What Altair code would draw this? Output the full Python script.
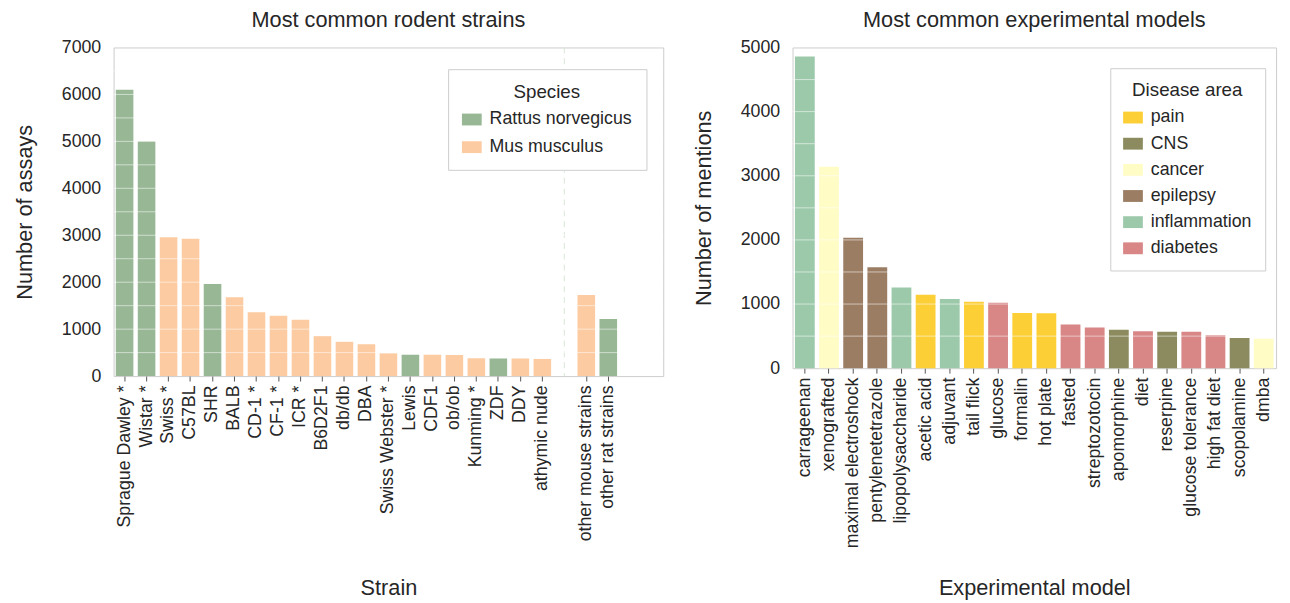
import altair as alt
import pandas as pd

FONT = "Liberation Sans"
TXT = "#262626"

# ---------------- left panel data ----------------
strains = ["Sprague Dawley *", "Wistar *", "Swiss *", "C57BL", "SHR", "BALB", "CD-1 *", "CF-1 *",
           "ICR *", "B6D2F1", "db/db", "DBA", "Swiss Webster *", "Lewis", "CDF1", "ob/ob",
           "Kunming *", "ZDF", "DDY", "athymic nude", "other mouse strains", "other rat strains"]
assays = [6100, 5000, 2960, 2925, 1960, 1680, 1360, 1285, 1200, 850, 730, 680, 485, 455, 455,
          450, 380, 375, 375, 365, 1725, 1215]
RAT = "Rattus norvegicus"
MOUSE = "Mus musculus"
species = [RAT, RAT, MOUSE, MOUSE, RAT, MOUSE, MOUSE, MOUSE, MOUSE, MOUSE, MOUSE, MOUSE, MOUSE,
           RAT, MOUSE, MOUSE, MOUSE, RAT, MOUSE, MOUSE, MOUSE, RAT]
species_order = [RAT, MOUSE]
species_colors = ["#97b795", "#fdcba1"]
gap_slot = ["  "]
end_slots = ["   ", "    "]
left_ticks = [0, 1000, 2000, 3000, 4000, 5000, 6000, 7000]
left_grid = [500, 1000, 1500, 2000, 2500, 3000, 3500, 4000, 4500, 5000, 5500, 6000, 6500]

# ---------------- right panel data ----------------
models = ["carrageenan", "xenografted", "maximal electroshock", "pentylenetetrazole",
          "lipopolysaccharide", "acetic acid", "adjuvant", "tail flick", "glucose", "formalin",
          "hot plate", "fasted", "streptozotocin", "apomorphine", "diet", "reserpine",
          "glucose tolerance", "high fat diet", "scopolamine", "dmba"]
mentions = [4860, 3140, 2035, 1575, 1260, 1145, 1080, 1035, 1020, 860, 855, 680, 635, 600, 575,
            570, 570, 515, 470, 460]
areas = ["inflammation", "cancer", "epilepsy", "epilepsy", "inflammation", "pain", "inflammation",
         "pain", "diabetes", "pain", "pain", "diabetes", "diabetes", "CNS", "diabetes", "CNS",
         "diabetes", "diabetes", "CNS", "cancer"]
area_order = ["pain", "CNS", "cancer", "epilepsy", "inflammation", "diabetes"]
area_colors = ["#fdcf37", "#8b8b5f", "#fffcc6", "#9b7d63", "#9dc9ab", "#d88686"]
right_ticks = [0, 1000, 2000, 3000, 4000, 5000]
right_grid = [500, 1000, 1500, 2000, 2500, 3000, 3500, 4000, 4500]

RECT = "M-1,-0.6H1V0.6H-1Z"
LBL = 18
TTL = 22

# ---------------- left panel ----------------
slot_order = strains[:20] + gap_slot + strains[20:] + end_slots
left_df = pd.DataFrame({"strain": strains, "assays": assays, "species": species})
gap_df = pd.DataFrame({"strain": gap_slot})
lgrid_df = pd.DataFrame({"assays": left_grid})

lx_scale = alt.Scale(domain=slot_order, paddingInner=0.2, paddingOuter=0.1)
ly_scale = alt.Scale(domain=[0, 7000], nice=False)

lx_axis = alt.Axis(title="Strain", values=strains, labelAngle=-90, labelFontSize=LBL,
                   labelFont=FONT, labelColor=TXT, ticks=True, tickSize=5, tickColor="#555555",
                   domain=False, grid=False, labelPadding=4, titleFont=FONT, titleFontSize=TTL,
                   titleFontWeight="normal", titleColor=TXT, titleY=214, titleBaseline="middle")
ly_axis = alt.Axis(title="Number of assays", values=left_ticks, format="d", labelFontSize=LBL,
                   labelFont=FONT, labelColor=TXT, ticks=False, tickSize=0, domain=False,
                   grid=False, labelPadding=13, titleFont=FONT, titleFontSize=TTL,
                   titleFontWeight="normal", titleColor=TXT, titleX=-90, titleBaseline="middle")

left_bars = alt.Chart(left_df).mark_bar().encode(
    x=alt.X("strain:N", scale=lx_scale, axis=lx_axis, sort=slot_order),
    y=alt.Y("assays:Q", scale=ly_scale, axis=ly_axis),
    color=alt.Color("species:N", scale=alt.Scale(domain=species_order, range=species_colors),
                    legend=alt.Legend(title="Species", orient="none", legendX=339, legendY=22,
                                      strokeColor="#cccccc", fillColor="white", padding=14,
                                      titleFontSize=19, titleFont=FONT, titleFontWeight="normal",
                                      titleColor=TXT, titleAnchor="middle", titlePadding=8,
                                      labelFontSize=18, labelFont=FONT, labelColor=TXT,
                                      labelOffset=8, rowPadding=9, symbolType=RECT,
                                      symbolSize=400, symbolStrokeWidth=0)),
)
left_grid_rules = alt.Chart(lgrid_df).mark_rule(color="white", strokeWidth=1, opacity=0.55).encode(
    y=alt.Y("assays:Q", scale=ly_scale, axis=ly_axis)
)
gap_rule = alt.Chart(gap_df).mark_rule(color="#d6e6d6", strokeWidth=1, strokeDash=[6, 5]).encode(
    x=alt.X("strain:N", scale=lx_scale, axis=lx_axis, sort=slot_order)
)
left = alt.layer(gap_rule, left_bars, left_grid_rules).properties(
    width=557, height=333,
    title=alt.TitleParams("Most common rodent strains", fontSize=TTL, font=FONT,
                          fontWeight="normal", color=TXT, offset=7, anchor="middle"),
)

# ---------------- right panel ----------------
right_df = pd.DataFrame({"model": models, "mentions": mentions, "area": areas})
rgrid_df = pd.DataFrame({"mentions": right_grid})

rx_scale = alt.Scale(domain=models, paddingInner=0.18, paddingOuter=0.1)
ry_scale = alt.Scale(domain=[0, 5000], nice=False)

rx_axis = alt.Axis(title="Experimental model", labelAngle=-90, labelFontSize=LBL, labelFont=FONT,
                   labelColor=TXT, ticks=True, tickSize=5, tickColor="#555555", domain=False,
                   grid=False, labelPadding=4, titleFont=FONT, titleFontSize=TTL,
                   titleFontWeight="normal", titleColor=TXT, titleY=222, titleBaseline="middle")
ry_axis = alt.Axis(title="Number of mentions", values=right_ticks, format="d", labelFontSize=LBL,
                   labelFont=FONT, labelColor=TXT, ticks=False, tickSize=0, domain=False,
                   grid=False, labelPadding=13, titleFont=FONT, titleFontSize=TTL,
                   titleFontWeight="normal", titleColor=TXT, titleX=-90, titleBaseline="middle")

right_bars = alt.Chart(right_df).mark_bar().encode(
    x=alt.X("model:N", scale=rx_scale, axis=rx_axis, sort=models),
    y=alt.Y("mentions:Q", scale=ry_scale, axis=ry_axis),
    color=alt.Color("area:N", scale=alt.Scale(domain=area_order, range=area_colors),
                    legend=alt.Legend(title="Disease area", orient="none", legendX=322,
                                      legendY=21, strokeColor="#cccccc", fillColor="white",
                                      padding=13, titleFontSize=19, titleFont=FONT,
                                      titleFontWeight="normal", titleColor=TXT,
                                      titleAnchor="middle", titlePadding=8, labelFontSize=18,
                                      labelFont=FONT, labelColor=TXT, labelOffset=8,
                                      rowPadding=7.5, symbolType=RECT, symbolSize=400,
                                      symbolStrokeWidth=0)),
)
right_grid_rules = alt.Chart(rgrid_df).mark_rule(color="white", strokeWidth=1, opacity=0.55).encode(
    y=alt.Y("mentions:Q", scale=ry_scale, axis=ry_axis)
)
right = alt.layer(right_bars, right_grid_rules).properties(
    width=490, height=325,
    title=alt.TitleParams("Most common experimental models", fontSize=TTL, font=FONT,
                          fontWeight="normal", color=TXT, offset=7, anchor="middle"),
)

chart = alt.hconcat(left, right, spacing=28).resolve_scale(color="independent").configure_view(
    stroke="#cccccc", strokeWidth=1
).properties(padding={"left": 5, "right": 5, "top": -4, "bottom": 5}, background="white")

chart.save("out.html", embed_options={"renderer": "svg", "actions": False})
